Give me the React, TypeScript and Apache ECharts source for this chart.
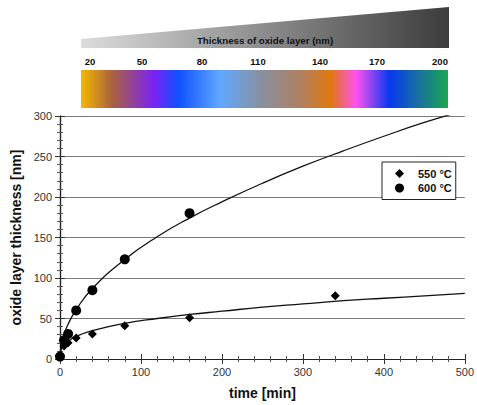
import React, { useEffect, useRef } from "react";
import * as echarts from "echarts";

// Measured data (time in min, thickness in nm)
const t550 = [5, 10, 20, 40, 80, 160, 340];
const v550 = [16, 20, 26, 31, 41, 51, 78];
const t600 = [0, 5, 10, 20, 40, 80, 160];
const v600 = [3, 23, 31, 60, 85, 123, 180];

// Fitted curves
const fitT = [0, 1, 2.5, 5, 10, 20, 40, 80, 120, 160, 200, 250, 300, 350, 400, 450, 500];
const fit550 = [0, 10, 14, 17, 22, 28, 35, 44, 50, 55, 59, 64, 68, 72, 75, 78, 81];
const fit600 = [0, 14, 22, 31, 43, 61, 87, 123, 151, 174, 194, 217, 238, 257, 275, 292, 307];

// Colour scale legend
const scaleLabels = ["20", "50", "80", "110", "140", "170", "200"];
const scaleLabelX = [90, 142, 202, 258, 320, 377, 440];
const scaleColors = [
  "#f4b800", "#a86040", "#7a22f8", "#1050ff", "#60a8ff", "#8890a0",
  "#b08060", "#e07810", "#ff50f0", "#0838f0", "#1870a0", "#18a850",
];
const scaleStops = [0, 0.087, 0.2, 0.265, 0.38, 0.49, 0.6, 0.68, 0.75, 0.84, 0.92, 1];

const FONT = "'Liberation Sans', Arial, Helvetica, sans-serif";

export default function App() {
  const ref = useRef<HTMLDivElement>(null);
  useEffect(() => {
    if (!ref.current) return;
    const chart = echarts.init(ref.current, undefined, { renderer: "svg" });
    const pairs = (xs: number[], ys: number[]) => xs.map((x, i) => [x, ys[i]]);
    const axisCommon = {
      type: "value" as const,
      axisLine: { show: true, lineStyle: { color: "#222", width: 1.2 } },
      axisTick: { show: true, inside: true, length: 5, lineStyle: { color: "#333" } },
      minorTick: { show: true, splitNumber: 5, length: 3, lineStyle: { color: "#555" } },
      splitLine: { show: false },
    };
    chart.setOption({
      animation: false,
      textStyle: { fontFamily: FONT },
      grid: { left: 60, right: 5, top: 116, bottom: 42 },
      xAxis: [
        {
          ...axisCommon,
          position: "bottom",
          min: 0,
          max: 500,
          interval: 100,
          axisLabel: { fontSize: 11, color: "#333", margin: 7, fontFamily: FONT },
          name: "time [min]",
          nameLocation: "middle",
          nameGap: 27,
          nameTextStyle: { fontSize: 14, fontWeight: "bold", color: "#111", fontFamily: FONT },
        },
        {
          ...axisCommon,
          position: "top",
          min: 0,
          max: 500,
          interval: 100,
          axisLabel: { show: false },
        },
      ],
      yAxis: [
        {
          ...axisCommon,
          position: "left",
          min: 0,
          max: 300,
          interval: 50,
          axisLabel: { fontSize: 11, color: "#333", margin: 8, fontFamily: FONT },
          splitLine: { show: true, lineStyle: { color: "#7a7a7a", width: 1 } },
          name: "oxide layer thickness [nm]",
          nameLocation: "middle",
          nameGap: 34,
          nameTextStyle: { fontSize: 14, fontWeight: "bold", color: "#111", fontFamily: FONT },
        },
        {
          ...axisCommon,
          position: "right",
          min: 0,
          max: 300,
          interval: 50,
          axisLabel: { show: false },
        },
      ],
      legend: {
        data: [
          { name: "550 °C", icon: "diamond" },
          { name: "600 °C", icon: "circle" },
        ],
        orient: "vertical",
        left: 382,
        top: 162,
        itemWidth: 9,
        itemHeight: 9,
        itemGap: 3.5,
        padding: [6, 4, 6, 13],
        borderColor: "#222",
        borderWidth: 1,
        backgroundColor: "#fff",
        itemStyle: { opacity: 1 },
        textStyle: {
          fontSize: 11,
          fontWeight: "bold",
          color: "#111",
          fontFamily: FONT,
          padding: [0, 0, 0, 9],
        },
      },
      graphic: [
        {
          type: "polygon",
          shape: { points: [[81, 39], [449, 7], [449, 48], [81, 48]] },
          style: {
            fill: new echarts.graphic.LinearGradient(0, 0, 1, 0, [
              { offset: 0, color: "#dcdcdc" },
              { offset: 1, color: "#3c3c3c" },
            ]),
          },
        },
        {
          type: "text",
          x: 265,
          y: 40,
          style: {
            text: "Thickness of oxide layer (nm)",
            fontSize: 9.7,
            fontWeight: "bold",
            fontFamily: FONT,
            fill: "#111",
            align: "center",
            verticalAlign: "middle",
          },
        },
        ...scaleLabels.map((s, i) => ({
          type: "text",
          x: scaleLabelX[i],
          y: 61,
          style: {
            text: s,
            fontSize: 9.5,
            fontWeight: "bold",
            fontFamily: FONT,
            fill: "#111",
            align: "center",
            verticalAlign: "middle",
          },
        })),
        {
          type: "rect",
          shape: { x: 81, y: 70, width: 367, height: 38 },
          style: {
            fill: new echarts.graphic.LinearGradient(
              0,
              0,
              1,
              0,
              scaleColors.map((c, i) => ({ offset: scaleStops[i], color: c }))
            ),
          },
        },
      ],
      series: [
        {
          name: "fit 550",
          type: "line",
          data: pairs(fitT, fit550),
          smooth: true,
          showSymbol: false,
          symbol: "none",
          lineStyle: { color: "#111", width: 1.3 },
          z: 2,
        },
        {
          name: "fit 600",
          type: "line",
          data: pairs(fitT, fit600),
          smooth: true,
          showSymbol: false,
          symbol: "none",
          lineStyle: { color: "#111", width: 1.3 },
          z: 2,
        },
        {
          name: "550 °C",
          type: "scatter",
          data: pairs(t550, v550),
          symbol: "diamond",
          symbolSize: 9,
          itemStyle: { color: "#000", opacity: 1 },
          z: 3,
        },
        {
          name: "600 °C",
          type: "scatter",
          data: pairs(t600, v600),
          symbol: "circle",
          symbolSize: 10,
          itemStyle: { color: "#000", opacity: 1 },
          z: 3,
        },
      ],
    });
    return () => chart.dispose();
  }, []);
  return <div ref={ref} style={{ width: 477, height: 405, position: "absolute", left: 0, top: 0 }} />;
}
